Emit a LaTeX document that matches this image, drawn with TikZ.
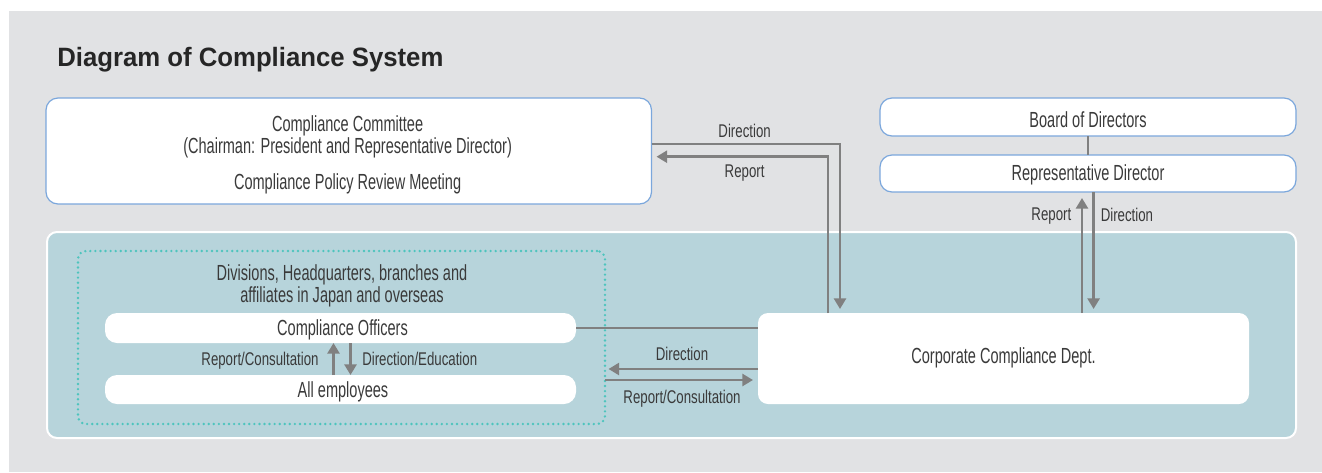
\documentclass[tikz,border=0pt]{standalone}
\usepackage{fontspec}
\setmainfont{Liberation Sans}[FakeStretch=0.665]
\newfontfamily\labelfont{Liberation Sans}[FakeStretch=0.72]
\newfontfamily\titlefont{Liberation Sans}[FakeStretch=0.97]
\usetikzlibrary{calc,arrows.meta}

\definecolor{bggray}{HTML}{E1E2E4}
\definecolor{teal}{HTML}{B7D4DB}
\definecolor{boxblue}{HTML}{7BA7DC}
\definecolor{arrowgray}{HTML}{808080}
\definecolor{dotteal}{HTML}{4DC4BD}
\definecolor{txt}{HTML}{3A3A3A}

\tikzset{
  box/.style={fill=white, inner sep=0pt, outer sep=0pt},
  bluebox/.style={box, draw=boxblue, line width=0.9pt, rounded corners=9pt},
  pillbox/.style={box, rounded corners=9pt},
  maintext/.style={inner sep=0pt, text=txt, font=\fontsize{16.4}{19}\selectfont},
  lbl/.style={inner sep=0pt, text=txt, font=\labelfont\fontsize{13.8}{16}\selectfont},
  conn/.style={draw=arrowgray, line width=2.1pt},
  arr/.style={conn, -{Triangle[length=8pt,width=9pt]}},
}

\begin{document}
\begin{tikzpicture}[x=0.75pt,y=-0.75pt]
  \useasboundingbox (0,0) rectangle (1322,472);
  \fill[white] (0,0) rectangle (1322,472);
  \fill[bggray] (9,11) rectangle (1322,472);

  % title
  \node[anchor=base west, inner sep=0pt, text=black!85] (title) at (57,66)
    {\titlefont\bfseries\fontsize{19.9}{23}\selectfont Diagram of Compliance System};

  % committee
  \node[bluebox, minimum width=605.5*0.75pt, minimum height=106*0.75pt] (comm) at (348.75,151) {};
  \node[maintext, anchor=base] (comm1) at (347.6,131) {Compliance Committee};
  \node[maintext, anchor=base] (comm2) at (347.6,153) {(Chairman: President and Representative Director)};
  \node[maintext, anchor=base] (comm3) at (347.6,189) {Compliance Policy Review Meeting};

  % board and representative director
  \node[bluebox, minimum width=416*0.75pt, minimum height=38*0.75pt] (board) at (1088,117) {};
  \node[maintext, anchor=base] (boardtxt) at (1088,127) {Board of Directors};
  \node[bluebox, minimum width=416*0.75pt, minimum height=37*0.75pt] (rep) at (1088,173.5) {};
  \node[maintext, anchor=base] (reptxt) at (1088,180) {Representative Director};

  % company area
  \node[fill=teal, draw=white, line width=1.5pt, rounded corners=7.5pt, inner sep=0pt,
        minimum width=1249*0.75pt, minimum height=206*0.75pt] (company) at (671.5,335) {};
  \node[draw=dotteal, line width=2pt, line cap=round, dash pattern=on 0pt off 3.8pt,
        rounded corners=6pt, inner sep=0pt, outer sep=0pt,
        minimum width=527*0.75pt, minimum height=173*0.75pt] (sites) at (341.5,337.5) {};
  \node[maintext, anchor=base] (sites1) at (342,280) {Divisions, Headquarters, branches and};
  \node[maintext, anchor=base] (sites2) at (342,302) {affiliates in Japan and overseas};

  \node[pillbox, minimum width=471*0.75pt, minimum height=30*0.75pt] (off) at (340.5,328) {};
  \node[maintext, anchor=base] (offtxt) at (342.5,335) {Compliance Officers};
  \node[pillbox, minimum width=471*0.75pt, minimum height=29*0.75pt] (emp) at (340.5,389.5) {};
  \node[maintext, anchor=base] (emptxt) at (343,397) {All employees};

  \node[box, rounded corners=7.5pt, minimum width=491*0.75pt, minimum height=91*0.75pt] (corp) at (1003.5,358.5) {};
  \node[maintext, anchor=base] (corptxt) at (1003.5,363) {Corporate Compliance Dept.};

  % committee <-> corporate compliance dept.
  \draw[arr] ($(comm.east)+(0,-7)$) -| ($(corp.north west)+(82,-4)$);
  \draw[arr] ($(corp.north west)+(70,0)$) |- ($(comm.east)+(5,5.7)$);
  \node[lbl, anchor=base] (ldir1) at (744.6,137) {Direction};
  \node[lbl, anchor=base] (lrep1) at (744.6,177) {Report};

  % board -- representative director
  \draw[conn] (board.south) -- (rep.north);

  % representative director <-> corporate compliance dept.
  \coordinate (ru) at ($(rep.south)+(-6,6)$);
  \coordinate (rd) at ($(rep.south)+(5.6,0)$);
  \draw[arr] (ru |- corp.north) -- (ru);
  \draw[arr, shorten >=3pt] (rd) -- (rd |- corp.north);
  \node[lbl, anchor=base east] (lrep2) at (1071.5,220) {Report};
  \node[lbl, anchor=base west] (ldir2) at (1100.5,221) {Direction};

  % compliance officers -- corporate compliance dept.
  \draw[conn] (off.east) -- (off.east -| corp.west);

  % corporate compliance dept. <-> sites
  \coordinate (dl) at ($(corp.west)+(0,10.5)$);
  \coordinate (dr) at ($(corp.west)+(0,21.5)$);
  \coordinate (dlend) at ($(dl -| sites.east)+(3.5,0)$);
  \coordinate (drstart) at (dr -| sites.east);
  \draw[arr] (dl) -- (dlend);
  \draw[arr, shorten >=3.75pt] (drstart) -- (dr);
  \node[lbl, anchor=base] (ldir3) at (682,360) {Direction};
  \node[lbl, anchor=base] (lrep3) at (682,403) {Report/Consultation};

  % officers <-> employees
  \coordinate (su) at ($(off.south)+(-7,0)$);
  \coordinate (sd) at ($(off.south)+(10,0)$);
  \draw[arr] (su |- emp.north) -- (su);
  \draw[arr] (sd) -- (sd |- emp.north);
  \node[lbl, anchor=base east] (lrep4) at (318.8,365) {Report/Consultation};
  \node[lbl, anchor=base west] (ldir4) at (362,365) {Direction/Education};
\end{tikzpicture}
\end{document}
